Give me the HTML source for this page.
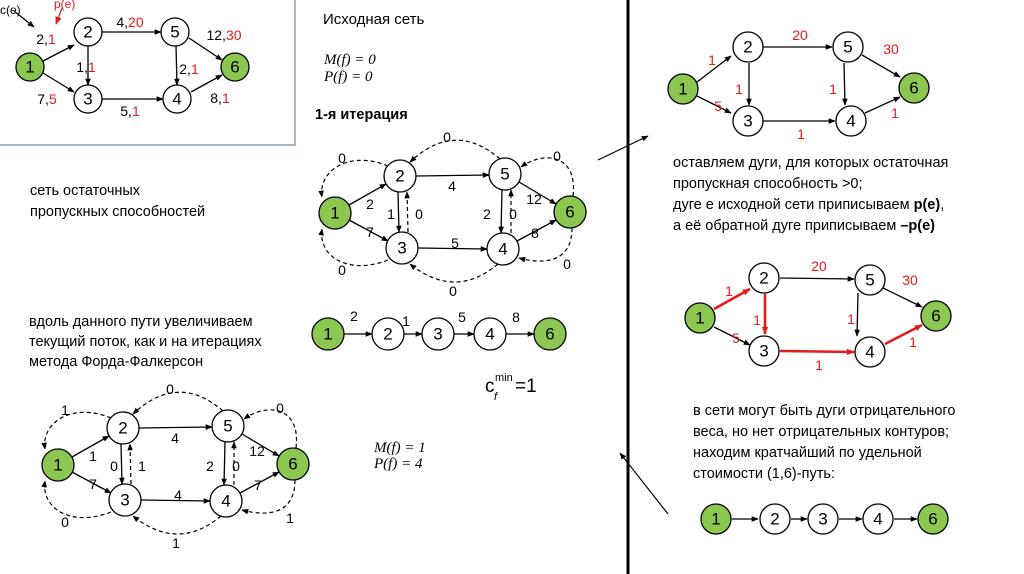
<!DOCTYPE html>
<html><head><meta charset="utf-8"><style>
body{margin:0;width:1024px;height:574px;background:#fff;overflow:hidden}
svg{display:block}
text{font-family:"Liberation Sans","DejaVu Sans",sans-serif}
.n{fill:#fff;stroke:#000;stroke-width:1.3}
.g{fill:#8cc751;stroke:#000;stroke-width:1.3}
.e{stroke:#000;stroke-width:1.3;fill:none;marker-end:url(#a)}
.d{stroke:#000;stroke-width:1.2;fill:none;stroke-dasharray:4,3;marker-end:url(#a)}
.r{stroke:#e41b1b;stroke-width:2.6;fill:none;marker-end:url(#ar)}
.t{font-size:17px;text-anchor:middle;dominant-baseline:central}
.l{font-size:14px;text-anchor:middle;dominant-baseline:central}
.red{fill:#e41b1b}
.p{font-size:14.5px}
.m{font-family:"Liberation Serif",serif;font-style:italic;font-size:15px}
</style></head><body>
<svg width="1024" height="574" viewBox="0 0 1024 574">
<defs>
<marker id="a" viewBox="0 0 10 10" refX="9" refY="5" markerWidth="7" markerHeight="7" orient="auto" markerUnits="userSpaceOnUse"><path d="M0,1 L10,5 L0,9 z" fill="#000"/></marker>
<marker id="ar" viewBox="0 0 10 10" refX="9" refY="5" markerWidth="8" markerHeight="8" orient="auto" markerUnits="userSpaceOnUse"><path d="M0,1 L10,5 L0,9 z" fill="#e41b1b"/></marker>
<g id="G">
<path class="e" d="M349,205 L386,184"/><path class="e" d="M349,220 L388,241"/>
<path class="e" d="M416,176 L489,175"/><path class="e" d="M418,248 L487,249"/>
<path class="e" d="M398,192 L399,232"/><path class="d" d="M408,232 L407,192"/>
<path class="e" d="M502,190 L501,233"/><path class="d" d="M511,233 L511,190"/>
<path class="e" d="M519,182 L556,204"/><path class="e" d="M517,241 L556,220"/>
<path class="d" d="M388,166 C350,150 318,170 322,197"/>
<path class="d" d="M500,159 Q455,120 410,162"/>
<path class="d" d="M573,196 C578,155 545,150 521,167"/>
<path class="d" d="M388,260 C350,275 318,258 322,229"/>
<path class="d" d="M498,264 Q455,300 410,264"/>
<path class="d" d="M572,228 C572,262 545,265 519,258"/>
<circle class="g" cx="335" cy="213" r="16"/><circle class="n" cx="400" cy="176" r="16"/><circle class="n" cx="402" cy="248" r="16"/>
<circle class="n" cx="505" cy="174" r="16"/><circle class="n" cx="503" cy="249" r="16"/><circle class="g" cx="570" cy="212" r="16"/>
</g>
</defs>
<rect x="-2" y="-2" width="297" height="147" fill="none" stroke="#8aa0b8" stroke-width="1.5"/>
<path d="M14,11 L34,27" stroke="#000" stroke-width="1.2" marker-end="url(#a)"/>
<path d="M62,8 L56,24" stroke="#e41b1b" stroke-width="1.2" marker-end="url(#ar)"/>
<text x="0" y="14" font-size="12">c(e)</text><text x="54" y="8" font-size="12" class="red">p(e)</text>
<path class="e" d="M43,61 L74,45"/><path class="e" d="M43,73 L74,92"/>
<path class="e" d="M102,32 L161,32"/><path class="e" d="M102,99 L163,99"/>
<path class="e" d="M88,46 L88,85"/><path class="e" d="M176,46 L177,85"/>
<path class="e" d="M189,38 L222,60"/><path class="e" d="M191,92 L222,75"/>
<circle class="g" cx="30" cy="67" r="14"/><circle class="n" cx="88" cy="32" r="14"/><circle class="n" cx="88" cy="99" r="14"/>
<circle class="n" cx="175" cy="32" r="14"/><circle class="n" cx="177" cy="99" r="14"/><circle class="g" cx="235" cy="67" r="14"/>
<text class="t" x="30" y="67">1</text><text class="t" x="88" y="32">2</text><text class="t" x="88" y="99">3</text><text class="t" x="175" y="32">5</text><text class="t" x="177" y="99">4</text><text class="t" x="235" y="67">6</text>
<text class="l" x="46" y="39">2,<tspan class="red">1</tspan></text>
<text class="l" x="47" y="99">7,<tspan class="red">5</tspan></text>
<text class="l" x="130" y="22">4,<tspan class="red">20</tspan></text>
<text class="l" x="130" y="111">5,<tspan class="red">1</tspan></text>
<text class="l" x="86" y="67">1,<tspan class="red">1</tspan></text>
<text class="l" x="189" y="69">2,<tspan class="red">1</tspan></text>
<text class="l" x="224" y="35">12,<tspan class="red">30</tspan></text>
<text class="l" x="220" y="98">8,<tspan class="red">1</tspan></text>
<text x="323" y="24" font-size="15">Исходная сеть</text>
<text x="324" y="64" class="m">M(f) = 0</text><text x="324" y="81" class="m">P(f) = 0</text>
<text x="315" y="119" font-size="14.5" font-weight="bold">1-я итерация</text>
<text x="30" y="195" class="p">сеть остаточных</text><text x="30" y="216" class="p">пропускных способностей</text>
<text x="29" y="326" class="p">вдоль данного пути увеличиваем</text>
<text x="29" y="346" class="p">текущий поток, как и на итерациях</text>
<text x="29" y="366" class="p">метода Форда-Фалкерсон</text>
<use href="#G"/>
<g class="t"><text x="335" y="213">1</text><text x="400" y="176">2</text><text x="402" y="248">3</text><text x="505" y="174">5</text><text x="503" y="249">4</text><text x="570" y="212">6</text></g>
<g class="l"><text x="370" y="204">2</text><text x="370" y="232">7</text><text x="452" y="186">4</text><text x="455" y="243">5</text><text x="391" y="214">1</text><text x="419" y="214">0</text><text x="487" y="214">2</text><text x="513" y="214">0</text><text x="534" y="199">12</text><text x="535" y="233">8</text>
<text x="342" y="158">0</text><text x="447" y="137">0</text><text x="557" y="156">0</text><text x="342" y="270">0</text><text x="453" y="291">0</text><text x="567" y="264">0</text></g>
<use href="#G" transform="translate(-277,252)"/>
<g class="t"><text x="58" y="465">1</text><text x="123" y="428">2</text><text x="125" y="500">3</text><text x="228" y="426">5</text><text x="226" y="501">4</text><text x="293" y="464">6</text></g>
<g class="l"><text x="93" y="456">1</text><text x="93" y="484">7</text><text x="175" y="438">4</text><text x="178" y="495">4</text><text x="114" y="466">0</text><text x="142" y="466">1</text><text x="210" y="466">2</text><text x="236" y="466">0</text><text x="257" y="451">12</text><text x="258" y="485">7</text>
<text x="65" y="410">1</text><text x="170" y="389">0</text><text x="280" y="408">0</text><text x="65" y="522">0</text><text x="176" y="543">1</text><text x="290" y="518">1</text></g>
<path class="e" d="M344,334 L372,334"/><path class="e" d="M404,334 L422,334"/><path class="e" d="M454,334 L474,334"/><path class="e" d="M506,334 L534,334"/>
<circle class="g" cx="328" cy="334" r="16"/><circle class="n" cx="388" cy="334" r="16"/><circle class="n" cx="438" cy="334" r="16"/><circle class="n" cx="490" cy="334" r="16"/><circle class="g" cx="550" cy="334" r="16"/>
<g class="t"><text x="328" y="334">1</text><text x="388" y="334">2</text><text x="438" y="334">3</text><text x="490" y="334">4</text><text x="550" y="334">6</text></g>
<g class="l"><text x="354" y="316">2</text><text x="406" y="321">1</text><text x="462" y="317">5</text><text x="516" y="317">8</text></g>
<text x="485" y="392" font-family="Liberation Serif,serif" font-size="19">c</text><text x="495" y="381" font-family="Liberation Serif,serif" font-size="11">min</text><text x="494" y="400" font-family="Liberation Serif,serif" font-style="italic" font-size="11">f</text><text x="515" y="392" font-family="Liberation Serif,serif" font-size="19">=1</text>
<text x="374" y="452" class="m" font-size="13">M(f) = 1</text><text x="374" y="468" class="m" font-size="13">P(f) = 4</text>
<line x1="628" y1="0" x2="628" y2="574" stroke="#000" stroke-width="3"/>
<path d="M598,160 L648,136" stroke="#000" stroke-width="1.2" marker-end="url(#a)"/>
<path d="M668,514 L620,453" stroke="#000" stroke-width="1.2" marker-end="url(#a)"/>
<path class="e" d="M697,82 L731,56"/><path class="e" d="M697,96 L731,113"/>
<path class="e" d="M761,47 L832,47"/><path class="e" d="M761,121 L835,121"/>
<path class="e" d="M749,63 L749,105"/><path class="e" d="M844,63 L845,105"/>
<path class="e" d="M862,55 L900,77"/><path class="e" d="M865,113 L900,97"/>
<circle class="g" cx="683" cy="89" r="15"/><circle class="n" cx="748" cy="47" r="15"/><circle class="n" cx="748" cy="121" r="15"/><circle class="n" cx="848" cy="47" r="15"/><circle class="n" cx="851" cy="121" r="15"/><circle class="g" cx="914" cy="88" r="15"/>
<g class="t"><text x="683" y="89">1</text><text x="748" y="47">2</text><text x="748" y="121">3</text><text x="848" y="47">5</text><text x="851" y="121">4</text><text x="914" y="88">6</text></g>
<g class="l red"><text x="712" y="60">1</text><text x="718" y="106">5</text><text x="800" y="35">20</text><text x="801" y="134">1</text><text x="739" y="89">1</text><text x="833" y="89">1</text><text x="891" y="49">30</text><text x="895" y="113">1</text></g>
<text x="673" y="167" class="p">оставляем дуги, для которых остаточная</text>
<text x="673" y="188" class="p">пропускная способность &gt;0;</text>
<text x="673" y="209" class="p">дуге е исходной сети приписываем <tspan font-weight="bold">p(e)</tspan>,</text>
<text x="673" y="230" class="p">а её обратной дуге приписываем <tspan font-weight="bold">–p(e)</tspan></text>
<path class="r" d="M714,309 L750,289"/><path class="e" d="M714,327 L750,345"/>
<path class="e" d="M780,278 L854,279"/><path class="r" d="M780,351 L854,352"/>
<path class="r" d="M765,294 L765,334"/><path class="e" d="M858,293 L857,336"/>
<path class="e" d="M883,288 L922,307"/><path class="r" d="M885,344 L922,325"/>
<circle class="g" cx="700" cy="318" r="15"/><circle class="n" cx="764" cy="278" r="15"/><circle class="n" cx="764" cy="351" r="15"/><circle class="n" cx="870" cy="280" r="15"/><circle class="n" cx="870" cy="352" r="15"/><circle class="g" cx="936" cy="316" r="15"/>
<g class="t"><text x="700" y="318">1</text><text x="764" y="278">2</text><text x="764" y="351">3</text><text x="870" y="280">5</text><text x="870" y="352">4</text><text x="936" y="316">6</text></g>
<g class="l red"><text x="729" y="291">1</text><text x="736" y="338">5</text><text x="819" y="266">20</text><text x="819" y="365">1</text><text x="757" y="320">1</text><text x="851" y="319">1</text><text x="910" y="280">30</text><text x="913" y="342">1</text></g>
<text x="693" y="415" class="p">в сети могут быть дуги отрицательного</text>
<text x="693" y="436" class="p">веса, но нет отрицательных контуров;</text>
<text x="693" y="457" class="p">находим кратчайший по удельной</text>
<text x="693" y="478" class="p">стоимости (1,6)-путь:</text>
<path class="e" d="M732,519 L758,519"/><path class="e" d="M791,519 L807,519"/><path class="e" d="M839,519 L862,519"/><path class="e" d="M894,519 L917,519"/>
<circle class="g" cx="716" cy="519" r="15"/><circle class="n" cx="775" cy="519" r="15"/><circle class="n" cx="823" cy="519" r="15"/><circle class="n" cx="878" cy="519" r="15"/><circle class="g" cx="933" cy="519" r="15"/>
<g class="t"><text x="716" y="519">1</text><text x="775" y="519">2</text><text x="823" y="519">3</text><text x="878" y="519">4</text><text x="933" y="519">6</text></g>
</svg>
</body></html>
